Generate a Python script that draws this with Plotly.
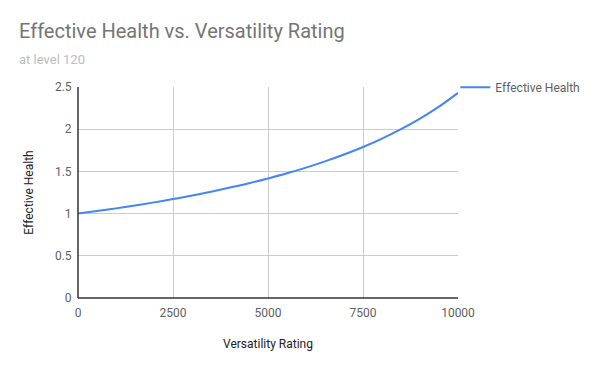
import plotly.graph_objects as go

versatility_rating = [0, 500, 1000, 1500, 2000, 2500, 3000, 3500, 4000, 4500, 5000,
                      5500, 6000, 6500, 7000, 7500, 8000, 8500, 9000, 9500, 10000]
effective_health = [1.000, 1.030, 1.062, 1.096, 1.133, 1.172, 1.214, 1.259, 1.308, 1.360, 1.417,
                    1.478, 1.545, 1.619, 1.700, 1.789, 1.889, 2.000, 2.125, 2.267, 2.430]
x_ticks = [0, 2500, 5000, 7500, 10000]
y_ticks = [0, 0.5, 1, 1.5, 2, 2.5]

FONT = "Roboto"

fig = go.Figure()
fig.add_trace(go.Scatter(
    x=versatility_rating, y=effective_health, mode="lines",
    name="Effective Health",
    line=dict(color="#4285F4", width=2, shape="spline", smoothing=1),
))

# page body adds an 8px offset; margins compensate for it
fig.update_layout(
    width=600, height=371,
    margin=dict(l=70, r=150, t=79, b=81, autoexpand=False),
    paper_bgcolor="white", plot_bgcolor="white",
    font=dict(family=FONT, size=12, color="#222222"),
    title=dict(
        text="Effective Health vs. Versatility Rating<br><span style='font-size:13px;color:#bdbdbd'>at level 120</span>",
        x=11 / 600, xref="container", xanchor="left", y=0.919, yanchor="top",
        font=dict(family=FONT, size=20, color="#757575"),
    ),
    legend=dict(
        x=0.993, xanchor="left", y=1.068, yanchor="top",
        font=dict(family=FONT, size=12, color="#616161"),
        bgcolor="rgba(0,0,0,0)",
    ),
    showlegend=True,
)

fig.update_xaxes(
    range=[0, 10000], tickvals=x_ticks, ticktext=[str(v) for v in x_ticks],
    showgrid=True, gridcolor="#cccccc", gridwidth=1,
    zeroline=False, showline=False, automargin=False,
    tickfont=dict(family=FONT, size=12, color="#616161"),
    ticks="outside", ticklen=4, tickcolor="rgba(0,0,0,0)",
    title=dict(text="Versatility Rating", font=dict(family=FONT, size=12, color="#222222"), standoff=20),
)
fig.update_yaxes(
    range=[0, 2.5], tickvals=y_ticks, ticktext=["0", "0.5", "1", "1.5", "2", "2.5"],
    showgrid=True, gridcolor="#cccccc", gridwidth=1,
    zeroline=False, showline=False, automargin=False,
    tickfont=dict(family=FONT, size=12, color="#616161"),
    ticks="outside", ticklen=3, tickcolor="rgba(0,0,0,0)",
    title=dict(text="Effective Health", font=dict(family=FONT, size=12, color="#222222"), standoff=18),
)

# dark baseline axes (left and bottom)
fig.add_shape(type="line", xref="paper", yref="paper", x0=0, x1=0, y0=0, y1=1,
              line=dict(color="#333333", width=1.5))
fig.add_shape(type="line", xref="paper", yref="paper", x0=0, x1=1, y0=0, y1=0,
              line=dict(color="#333333", width=1.5))

fig.write_html("out.html")
